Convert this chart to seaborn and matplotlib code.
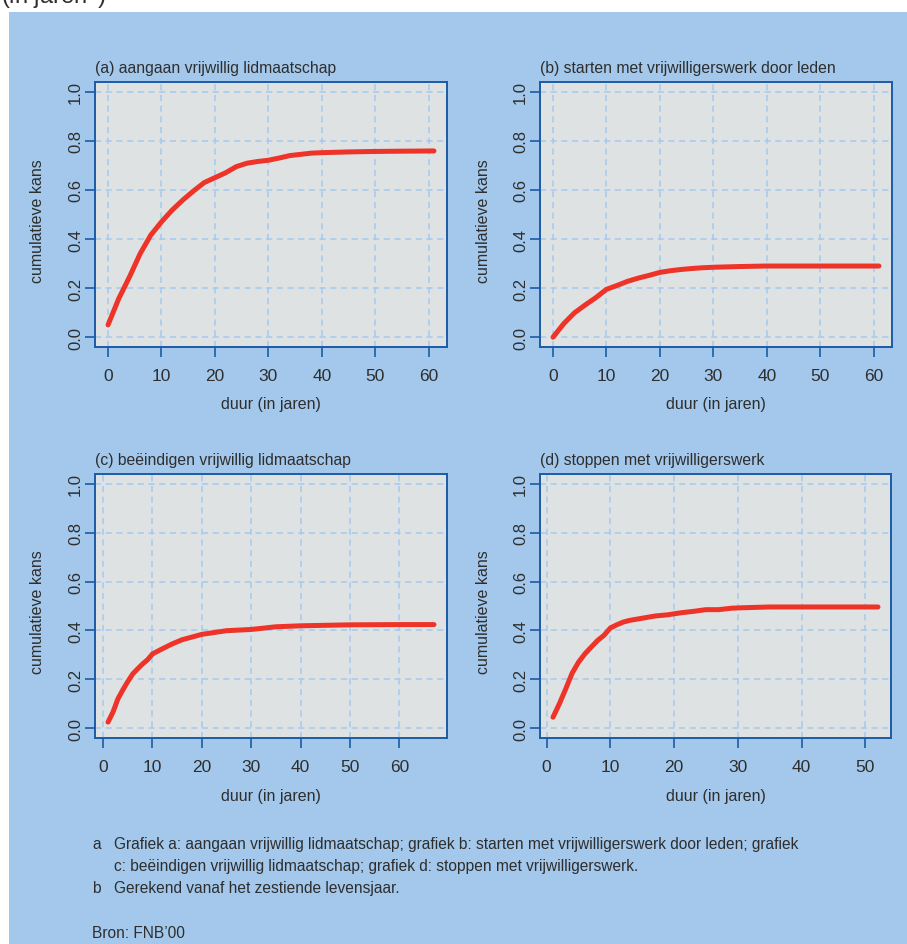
import matplotlib
matplotlib.use("Agg")
import matplotlib.pyplot as plt
import matplotlib.patches as mpatches
import pandas as pd
import seaborn as sns

# cumulative probability curves
years_a = [0, 2, 4, 6, 8, 10, 12, 14, 16, 18, 20, 22, 24, 26, 28, 30, 32, 34, 36, 38, 40, 45, 50, 55, 61]
prob_a = [0.05, 0.157, 0.245, 0.34, 0.416, 0.47, 0.518, 0.559, 0.596, 0.63, 0.65, 0.67, 0.695, 0.709,
          0.716, 0.721, 0.73, 0.74, 0.745, 0.75, 0.752, 0.755, 0.757, 0.758, 0.759]

years_b = [0, 2, 4, 6, 8, 10, 12, 14, 16, 18, 20, 22, 24, 26, 28, 30, 35, 40, 50, 61]
prob_b = [0.0, 0.055, 0.099, 0.131, 0.161, 0.195, 0.211, 0.228, 0.241, 0.252, 0.264, 0.271, 0.276,
          0.28, 0.283, 0.285, 0.288, 0.29, 0.29, 0.29]

years_c = [1, 2, 3, 4, 5, 6, 7, 8, 9, 10, 12, 14, 16, 18, 20, 22, 25, 30, 35, 40, 50, 60, 67]
prob_c = [0.025, 0.066, 0.12, 0.157, 0.191, 0.222, 0.243, 0.263, 0.28, 0.304, 0.325, 0.345, 0.362,
          0.373, 0.384, 0.39, 0.399, 0.404, 0.415, 0.419, 0.423, 0.424, 0.424]

years_d = [1, 2, 3, 4, 5, 6, 7, 8, 9, 10, 11, 12, 13, 15, 17, 19, 21, 23, 25, 27, 29, 31, 35, 40, 52]
prob_d = [0.045, 0.1, 0.161, 0.225, 0.27, 0.304, 0.332, 0.359, 0.38, 0.41, 0.423, 0.434, 0.441, 0.45,
          0.459, 0.464, 0.472, 0.478, 0.485, 0.485, 0.491, 0.493, 0.496, 0.496, 0.496]

titles = ["(a) aangaan vrijwillig lidmaatschap",
          "(b) starten met vrijwilligerswerk door leden",
          "(c) beëindigen vrijwillig lidmaatschap",
          "(d) stoppen met vrijwilligerswerk"]
x_ticks = [[0, 10, 20, 30, 40, 50, 60], [0, 10, 20, 30, 40, 50, 60],
           [0, 10, 20, 30, 40, 50, 60], [0, 10, 20, 30, 40, 50]]
y_ticks = [0.0, 0.2, 0.4, 0.6, 0.8, 1.0]

footnotes = [("a", "Grafiek a: aangaan vrijwillig lidmaatschap; grafiek b: starten met vrijwilligerswerk door leden; grafiek"),
             ("", "c: beëindigen vrijwillig lidmaatschap; grafiek d: stoppen met vrijwilligerswerk."),
             ("b", "Gerekend vanaf het zestiende levensjaar.")]
source = "Bron: FNB\u201900"

BG = "#a3c8eb"
PANEL = "#dfe2e3"
SPINE = "#1b5ca6"
GRID = "#a3caef"
RED = "#ee3328"
TXT = "#2e2e2e"
SANS = ["Liberation Sans", "DejaVu Sans"]

sns.set_style("white", {"axes.facecolor": PANEL, "axes.edgecolor": SPINE})
plt.rcParams["font.family"] = SANS

W, H = 907, 945
fig = plt.figure(figsize=(W / 100, H / 100), dpi=100)
fig.patch.set_facecolor("white")
fig.add_artist(mpatches.Rectangle((9 / W, 0), 1 - 9 / W, 1 - 13 / H, transform=fig.transFigure,
                                  facecolor=BG, edgecolor="none", zorder=0))

# heading of the page, cut off by the top edge as in the source
fig.text(1 / W, 1 - 4 / H, r"(in jaren$^{\rm b}$)", fontsize=17, color=TXT,
         ha="left", va="baseline")

# axes boxes in pixels: left, top, right, bottom
boxes = [(95, 83, 447, 348), (540, 83, 892, 348), (95, 475, 447, 739), (540, 475, 891, 739)]
series = [(years_a, prob_a), (years_b, prob_b), (years_c, prob_c), (years_d, prob_d)]

for i, ((l, t, r, b), (xs, ys)) in enumerate(zip(boxes, series)):
    ax = fig.add_axes([l / W, 1 - b / H, (r - l) / W, (b - t) / H])
    df = pd.DataFrame({"duur": xs, "kans": ys})
    sns.lineplot(data=df, x="duur", y="kans", ax=ax, color=RED, linewidth=3.6, zorder=3)
    lo, hi = min(xs), max(xs)
    pad = 0.04 * (hi - lo)
    ax.set_xlim(lo - pad, hi + pad)
    ax.set_ylim(-0.04, 1.04)
    ax.set_xticks(x_ticks[i])
    ax.set_yticks(y_ticks)
    ax.set_yticklabels([f"{v:.1f}" for v in y_ticks], rotation=90, va="center")
    ax.grid(True, color=GRID, linestyle=(0, (4, 3)), linewidth=1.1, zorder=1)
    ax.set_axisbelow(True)
    for s in ax.spines.values():
        s.set_visible(True)
        s.set_color(SPINE)
        s.set_linewidth(1.4)
    ax.tick_params(axis="both", bottom=True, left=True, direction="out", length=7, width=1.2,
                   color=SPINE, labelcolor=TXT, labelsize=12)
    ax.tick_params(axis="x", pad=8, labelsize=12.5)
    ax.tick_params(axis="y", pad=1.5)
    ax.set_xlabel("duur (in jaren)", fontsize=11.5, color=TXT)
    ax.xaxis.set_label_coords(0.5, (b - 404) / (b - t) if i < 2 else (b - 796) / (b - t))
    ax.xaxis.label.set_va("center")
    ax.set_ylabel("cumulatieve kans", fontsize=11.5, color=TXT)
    ax.yaxis.set_label_coords((38 - 95) / (r - l), 0.48)
    ax.yaxis.label.set_va("center")
    ax.set_title(titles[i], loc="left", fontsize=11.3, color=TXT, pad=7.2)

# footnotes
baselines = [849, 871, 893]
for (mark, text), yb in zip(footnotes, baselines):
    if mark:
        fig.text(92 / W, 1 - yb / H, mark, fontsize=11.2, color=TXT, va="baseline")
    fig.text(114 / W, 1 - yb / H, text, fontsize=11.2, color=TXT, va="baseline")
fig.text(92 / W, 1 - 938 / H, source, fontsize=11.2, color=TXT, va="baseline")

fig.savefig("out.png", dpi=100)
